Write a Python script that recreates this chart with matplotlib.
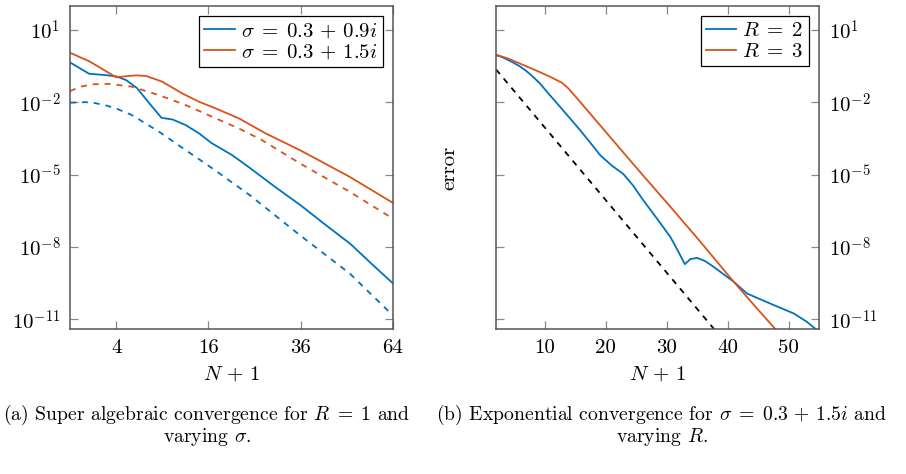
import numpy as np
import matplotlib
matplotlib.use('Agg')
import matplotlib.pyplot as plt
from matplotlib.ticker import FixedLocator, FixedFormatter, NullLocator

plt.rcParams['font.family'] = 'cmr10'
plt.rcParams['mathtext.fontset'] = 'cm'
plt.rcParams['axes.formatter.use_mathtext'] = True

BLUE = '#0072BD'
ORANGE = '#D95319'

# ---- (a) data: log10(error) vs N+1 ----
n_s09 = [1, 2, 3, 4, 4.9, 6, 7.4, 8.9, 10.4, 12.3, 14.5, 16.5, 20.4, 24, 30, 36, 43, 50, 57, 64]
e_s09 = [-0.34, -0.81, -0.86, -0.92, -1.07, -1.40, -2.04, -2.64, -2.71, -2.94, -3.30, -3.68,
         -4.19, -4.72, -5.55, -6.27, -7.11, -7.86, -8.72, -9.51]
n_s09_d = [1, 1.8, 2.4, 3.2, 4, 5.5, 8.6, 12.3, 14.5, 16.7, 24, 35.8, 49.9, 63.3, 64]
e_s09_d = [-2.01, -1.99, -2.03, -2.13, -2.25, -2.53, -3.22, -3.98, -4.37, -4.74, -5.85, -7.51,
           -9.10, -10.76, -10.83]
n_s15 = [1, 2, 3, 4, 5, 5.9, 7, 9, 11.8, 14.4, 17.3, 21.7, 27.5, 35.8, 49.9, 64]
e_s15 = [0.06, -0.29, -0.65, -0.96, -0.91, -0.88, -0.90, -1.14, -1.63, -1.97, -2.25, -2.66,
         -3.29, -3.98, -5.09, -6.17]
n_s15_d = [1, 1.5, 2.2, 3.4, 5.5, 8.6, 12.3, 16.7, 21.7, 26.6, 35.8, 49.9, 63.3, 64]
e_s15_d = [-1.53, -1.35, -1.25, -1.23, -1.35, -1.70, -2.11, -2.60, -3.08, -3.56, -4.53, -5.71,
           -6.77, -6.82]

# ---- (b) data ----
n_r2 = [2, 3, 4, 5, 6, 7, 8, 9.2, 10.5, 12.5, 14, 15.8, 17.5, 19.1, 21, 22.9, 24.5, 26, 28.5,
        30.6, 31.2, 33, 33.9, 35, 36.3, 37.7, 41, 43.2, 45.4, 47.6, 50.9, 53, 54.5, 55]
e_r2 = [-0.04, -0.12, -0.24, -0.37, -0.52, -0.70, -0.92, -1.21, -1.60, -2.18, -2.62, -3.15,
        -3.68, -4.19, -4.62, -4.97, -5.45, -6.00, -6.85, -7.58, -7.85, -8.71, -8.50, -8.45,
        -8.58, -8.82, -9.44, -9.93, -10.17, -10.41, -10.76, -11.10, -11.41, -11.52]
n_r3 = [2, 4, 6.5, 9, 10.9, 12.8, 13.8, 15.3, 20, 25, 30, 35, 41, 45, 48, 49]
e_r3 = [-0.02, -0.18, -0.45, -0.72, -0.94, -1.18, -1.40, -1.83, -3.22, -4.70, -6.15, -7.62,
        -9.44, -10.60, -11.45, -11.75]
n_ref = [2, 40]
e_ref = [-0.63, -12.07]

fig = plt.figure(figsize=(9.06, 4.74), dpi=100)
ax1 = fig.add_axes([70/906, 1-329/474, 323/906, 323/474])
ax2 = fig.add_axes([496/906, 1-329/474, 323/906, 323/474])

lw = 1.3
dash = (3.3, 3.3)
fs = 15
cfs = 14.2

ax1.set_xscale('function', functions=(lambda x: np.sqrt(np.clip(x, 0, None)), lambda x: x**2))
ax1.plot(n_s09, 10.0**np.array(e_s09), color=BLUE, lw=lw, label=r'$\sigma\;=\;0.3\,+\,0.9i$')
ax1.plot(n_s15, 10.0**np.array(e_s15), color=ORANGE, lw=lw, label=r'$\sigma\;=\;0.3\,+\,1.5i$')
ax1.plot(n_s09_d, 10.0**np.array(e_s09_d), color=BLUE, lw=lw, dashes=dash)
ax1.plot(n_s15_d, 10.0**np.array(e_s15_d), color=ORANGE, lw=lw, dashes=dash)
ax1.set_xlim(1, 64)

ax2.plot(n_r2, 10.0**np.array(e_r2), color=BLUE, lw=lw, label=r'$R\;=\;2$')
ax2.plot(n_r3, 10.0**np.array(e_r3), color=ORANGE, lw=lw, label=r'$R\;=\;3$')
ax2.plot(n_ref, 10.0**np.array(e_ref), color='black', lw=lw, dashes=dash)
ax2.set_xlim(2, 55)

yt = [1e1, 1e-2, 1e-5, 1e-8, 1e-11]
ylab = [r'$10^{1}$', r'$10^{-2}$', r'$10^{-5}$', r'$10^{-8}$', r'$10^{-11}$']

for ax in (ax1, ax2):
    ax.set_yscale('log')
    ax.set_ylim(10**-11.4, 10**2.0)
    ax.yaxis.set_major_locator(FixedLocator(yt))
    ax.yaxis.set_major_formatter(FixedFormatter(ylab))
    ax.yaxis.set_minor_locator(NullLocator())
    ax.xaxis.set_minor_locator(NullLocator())
    for s in ax.spines.values():
        s.set_color('#555555')
        s.set_linewidth(1.1)
    ax.tick_params(direction='in', length=6, width=0.9, color='#888888',
                   top=True, bottom=True, left=True, right=True,
                   labelsize=fs, pad=7)
    ax.set_xlabel(r'$N\,+\,1$', fontsize=fs)
    ax.xaxis.set_label_coords(0.5, -0.11)
    leg = ax.legend(loc='upper right', fancybox=False, edgecolor='black', framealpha=1,
                    fontsize=fs, handlelength=1.45, handletextpad=0.3, borderpad=0.25,
                    labelspacing=0.1, borderaxespad=0.5)
    leg.get_frame().set_linewidth(0.9)

ax1.xaxis.set_major_locator(FixedLocator([4, 16, 36, 64]))
ax1.xaxis.set_major_formatter(FixedFormatter(['4', '16', '36', '64']))
ax2.xaxis.set_major_locator(FixedLocator([10, 20, 30, 40, 50]))
ax2.xaxis.set_major_formatter(FixedFormatter(['10', '20', '30', '40', '50']))

ax1.tick_params(axis='y', labelleft=True, labelright=False)
ax2.tick_params(axis='y', labelleft=False, labelright=True)
ax2.set_ylabel('error', fontsize=fs)
ax2.yaxis.set_label_position('left')
ax2.yaxis.set_label_coords(-0.118, 0.5)

fig.text(207/906, 1-420/474, r'(a) Super algebraic convergence for $R\;=\;1$ and',
         ha='center', va='baseline', fontsize=cfs)
fig.text(207/906, 1-442/474, r'varying $\sigma$.', ha='center', va='baseline', fontsize=cfs)
fig.text(662/906, 1-420/474,
         r'(b) Exponential convergence for $\sigma\;=\;0.3\,+\,1.5i$ and',
         ha='center', va='baseline', fontsize=cfs)
fig.text(662/906, 1-442/474, r'varying $R$.', ha='center', va='baseline', fontsize=cfs)

fig.savefig('out.png', dpi=100)
